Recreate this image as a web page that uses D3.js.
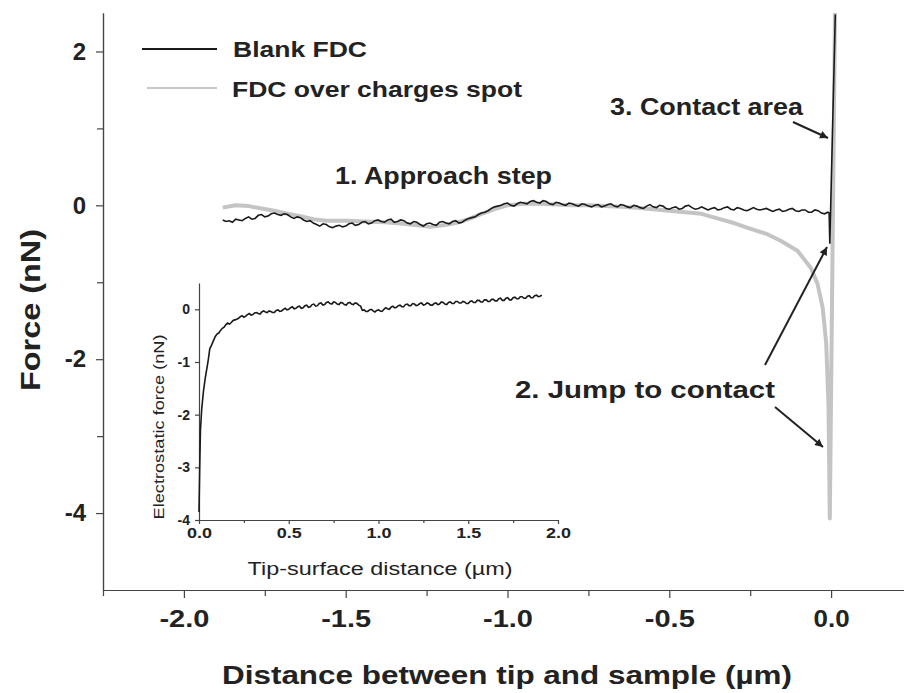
<!DOCTYPE html>
<html>
<head>
<meta charset="utf-8">
<script src="https://cdn.jsdelivr.net/npm/d3@7"></script>
<style>
  body { margin: 0; background: #fff; }
  text { font-family: "Liberation Sans", Arial, sans-serif; fill: #222; }
  .axis path, .axis line { stroke: #444; stroke-width: 1.2; }
  .axis text { font-weight: bold; }
</style>
</head>
<body>
<div id="chart-container"></div>
<script>
// force-distance curves
// main plot: blank FDC (black)
const blankFDC = [
  [-1.88,-0.19],[-1.87,-0.21],[-1.86,-0.20],[-1.85,-0.22],[-1.84,-0.18],[-1.83,-0.19],[-1.82,-0.20],
  [-1.81,-0.17],[-1.80,-0.15],[-1.79,-0.18],[-1.78,-0.17],[-1.77,-0.13],[-1.76,-0.12],[-1.75,-0.15],
  [-1.74,-0.14],[-1.73,-0.11],[-1.72,-0.10],[-1.71,-0.12],[-1.70,-0.13],[-1.69,-0.11],[-1.68,-0.12],
  [-1.67,-0.15],[-1.66,-0.17],[-1.65,-0.15],[-1.64,-0.16],[-1.63,-0.19],[-1.62,-0.21],[-1.61,-0.20],
  [-1.60,-0.23],[-1.59,-0.25],[-1.58,-0.27],[-1.57,-0.24],[-1.56,-0.25],[-1.55,-0.28],[-1.54,-0.29],
  [-1.53,-0.27],[-1.52,-0.26],[-1.51,-0.28],[-1.50,-0.27],[-1.49,-0.24],[-1.48,-0.23],[-1.47,-0.26],
  [-1.46,-0.25],[-1.45,-0.22],[-1.44,-0.21],[-1.43,-0.24],[-1.42,-0.23],[-1.41,-0.20],[-1.40,-0.19],
  [-1.39,-0.21],[-1.38,-0.22],[-1.37,-0.19],[-1.36,-0.18],[-1.35,-0.22],[-1.34,-0.21],[-1.33,-0.19],
  [-1.32,-0.20],[-1.31,-0.23],[-1.30,-0.24],[-1.29,-0.21],[-1.28,-0.22],[-1.27,-0.25],[-1.26,-0.27],
  [-1.25,-0.24],[-1.24,-0.23],[-1.23,-0.25],[-1.22,-0.26],[-1.21,-0.22],[-1.20,-0.21],[-1.19,-0.23],
  [-1.18,-0.24],[-1.17,-0.21],[-1.16,-0.20],[-1.15,-0.23],[-1.14,-0.22],[-1.13,-0.19],[-1.12,-0.17],
  [-1.11,-0.16],[-1.10,-0.15],[-1.09,-0.12],[-1.08,-0.10],[-1.07,-0.09],[-1.06,-0.07],[-1.05,-0.04],
  [-1.04,-0.02],[-1.03,-0.01],[-1.02,0.00],[-1.01,0.02],[-1.00,0.03],[-0.99,0.00],[-0.98,-0.01],
  [-0.97,0.02],[-0.96,0.04],[-0.95,0.03],[-0.94,0.02],[-0.93,0.05],[-0.92,0.06],[-0.91,0.04],
  [-0.90,0.03],[-0.89,0.06],[-0.88,0.05],[-0.87,0.02],[-0.86,0.01],[-0.85,0.04],[-0.84,0.03],
  [-0.83,0.01],[-0.82,0.00],[-0.81,0.03],[-0.80,0.02],[-0.79,0.00],[-0.78,-0.01],[-0.77,0.02],
  [-0.76,0.01],[-0.75,-0.01],[-0.74,-0.02],[-0.73,0.00],[-0.72,0.01],[-0.71,-0.02],[-0.70,-0.01],
  [-0.69,0.01],[-0.68,0.02],[-0.67,-0.01],[-0.66,-0.02],[-0.65,0.01],[-0.64,0.00],[-0.63,-0.02],
  [-0.62,-0.03],[-0.61,0.00],[-0.60,-0.01],[-0.59,-0.03],[-0.58,-0.04],[-0.57,-0.01],[-0.56,0.01],
  [-0.55,-0.02],[-0.54,-0.03],[-0.53,0.00],[-0.52,-0.01],[-0.51,-0.04],[-0.50,-0.05],[-0.49,-0.03],
  [-0.48,-0.02],[-0.47,-0.05],[-0.46,-0.04],[-0.45,-0.01],[-0.44,0.00],[-0.43,-0.03],[-0.42,-0.05],
  [-0.41,-0.04],[-0.40,-0.02],[-0.39,-0.04],[-0.38,-0.06],[-0.37,-0.04],[-0.36,-0.03],[-0.35,-0.06],
  [-0.34,-0.05],[-0.33,-0.03],[-0.32,-0.02],[-0.31,-0.05],[-0.30,-0.06],[-0.29,-0.03],[-0.28,-0.04],
  [-0.27,-0.06],[-0.26,-0.07],[-0.25,-0.05],[-0.24,-0.03],[-0.23,-0.05],[-0.22,-0.06],[-0.21,-0.05],
  [-0.20,-0.04],[-0.19,-0.06],[-0.18,-0.08],[-0.17,-0.06],[-0.16,-0.05],[-0.15,-0.08],[-0.14,-0.07],
  [-0.13,-0.05],[-0.12,-0.04],[-0.11,-0.07],[-0.10,-0.08],[-0.09,-0.06],[-0.08,-0.06],[-0.07,-0.09],
  [-0.06,-0.09],[-0.05,-0.06],[-0.04,-0.07],[-0.03,-0.10],[-0.02,-0.11],[-0.01,-0.09],[-0.006,-0.10],
  [-0.004,-0.50],[0.013,2.48]
];
// main plot: FDC over charges spot (grey)
const chargeFDC = [
  [-1.88,-0.03],[-1.84,0.00],[-1.80,-0.01],[-1.76,-0.04],[-1.72,-0.07],[-1.68,-0.11],
  [-1.64,-0.14],[-1.60,-0.18],[-1.56,-0.20],[-1.50,-0.20],[-1.44,-0.21],[-1.38,-0.22],
  [-1.32,-0.24],[-1.28,-0.26],[-1.24,-0.28],[-1.20,-0.26],[-1.16,-0.23],[-1.12,-0.18],
  [-1.08,-0.11],[-1.04,-0.05],[-1.00,0.00],[-0.95,0.02],[-0.90,0.02],[-0.85,0.01],
  [-0.80,0.00],[-0.75,0.00],[-0.70,-0.01],[-0.65,-0.02],[-0.60,-0.03],[-0.55,-0.05],
  [-0.50,-0.07],[-0.45,-0.09],[-0.40,-0.11],[-0.36,-0.16],[-0.30,-0.23],[-0.26,-0.29],
  [-0.20,-0.37],[-0.156,-0.46],[-0.104,-0.59],[-0.063,-0.81],[-0.042,-1.02],[-0.026,-1.33],
  [-0.015,-1.80],[-0.008,-2.60],[-0.004,-4.07],[0.012,2.50]
];
// inset: electrostatic force vs tip-surface distance
const electroForce = [
  [0.0,-3.85],[0.004,-3.0],[0.008,-2.3],[0.015,-1.9],[0.025,-1.55],[0.035,-1.3],
  [0.05,-1.0],[0.06,-0.75],[0.07,-0.68],[0.08,-0.6],[0.09,-0.52],[0.10,-0.47],[0.11,-0.45],
  [0.12,-0.40],[0.13,-0.36],[0.14,-0.34],[0.15,-0.29],[0.16,-0.26],[0.17,-0.28],[0.18,-0.25],
  [0.19,-0.21],[0.20,-0.20],[0.21,-0.19],[0.22,-0.17],[0.23,-0.14],[0.24,-0.12],[0.25,-0.15],
  [0.26,-0.13],[0.27,-0.10],[0.28,-0.08],[0.29,-0.11],[0.30,-0.10],[0.31,-0.07],[0.32,-0.06],
  [0.33,-0.08],[0.34,-0.09],[0.35,-0.05],[0.36,-0.03],[0.37,-0.05],[0.38,-0.06],[0.39,-0.03],
  [0.40,-0.04],[0.41,-0.06],[0.42,-0.06],[0.43,-0.02],[0.44,-0.01],[0.45,-0.04],[0.46,-0.03],
  [0.47,0.00],[0.48,0.02],[0.49,-0.01],[0.50,0.00],[0.51,0.03],[0.52,0.05],[0.53,0.01],
  [0.54,0.02],[0.55,0.05],[0.56,0.06],[0.57,0.02],[0.58,0.03],[0.59,0.07],[0.60,0.08],
  [0.61,0.04],[0.62,0.05],[0.63,0.09],[0.64,0.10],[0.65,0.06],[0.66,0.07],[0.67,0.11],
  [0.68,0.12],[0.69,0.08],[0.70,0.09],[0.71,0.13],[0.72,0.14],[0.73,0.11],[0.74,0.10],
  [0.75,0.14],[0.76,0.13],[0.77,0.10],[0.78,0.09],[0.79,0.13],[0.80,0.12],[0.81,0.09],
  [0.82,0.08],[0.83,0.12],[0.84,0.13],[0.85,0.10],[0.86,0.09],[0.87,0.12],[0.88,0.11],
  [0.89,0.08],[0.90,0.06],[0.91,-0.02],[0.92,-0.01],[0.93,-0.04],[0.94,-0.04],[0.95,-0.01],
  [0.96,0.00],[0.97,-0.03],[0.98,-0.05],[0.99,-0.02],[1.00,-0.01],[1.01,-0.03],[1.02,-0.04],
  [1.03,0.00],[1.04,0.03],[1.05,0.01],[1.06,0.00],[1.07,0.04],[1.08,0.06],[1.09,0.03],
  [1.10,0.04],[1.11,0.07],[1.12,0.08],[1.13,0.05],[1.14,0.05],[1.15,0.09],[1.16,0.10],
  [1.17,0.07],[1.18,0.07],[1.19,0.11],[1.20,0.10],[1.21,0.07],[1.22,0.08],[1.23,0.11],
  [1.24,0.12],[1.25,0.08],[1.26,0.09],[1.27,0.12],[1.28,0.11],[1.29,0.08],[1.30,0.08],
  [1.31,0.11],[1.32,0.12],[1.33,0.09],[1.34,0.10],[1.35,0.14],[1.36,0.13],[1.37,0.10],
  [1.38,0.09],[1.39,0.13],[1.40,0.14],[1.41,0.11],[1.42,0.11],[1.43,0.15],[1.44,0.15],
  [1.45,0.12],[1.46,0.12],[1.47,0.15],[1.48,0.14],[1.49,0.11],[1.50,0.11],[1.51,0.15],
  [1.52,0.16],[1.53,0.13],[1.54,0.13],[1.55,0.17],[1.56,0.17],[1.57,0.14],[1.58,0.14],
  [1.59,0.18],[1.60,0.18],[1.61,0.15],[1.62,0.15],[1.63,0.19],[1.64,0.19],[1.65,0.16],
  [1.66,0.16],[1.67,0.20],[1.68,0.21],[1.69,0.17],[1.70,0.17],[1.71,0.21],[1.72,0.22],
  [1.73,0.18],[1.74,0.18],[1.75,0.22],[1.76,0.23],[1.77,0.20],[1.78,0.20],[1.79,0.24],
  [1.80,0.24],[1.81,0.21],[1.82,0.21],[1.83,0.25],[1.84,0.26],[1.85,0.22],[1.86,0.22],
  [1.87,0.26],[1.88,0.27],[1.89,0.24],[1.90,0.25],[1.91,0.27]
];

const xTicks = [-2.0, -1.5, -1.0, -0.5, 0.0];
const xMinor = [-2.25, -1.75, -1.25, -0.75, -0.25];
const yTicks = [2, 0, -2, -4];
const yMinor = [1, -1, -3];
const insetXTicks = [0.0, 0.5, 1.0, 1.5, 2.0];
const insetXMinor = [0.25, 0.75, 1.25, 1.75];
const insetYTicks = [0, -1, -2, -3, -4];

const svgWidth = 904;
const svgHeight = 693;

// plain hyphen instead of d3's unicode minus, like the original figure
const fmt1 = d => d3.format(".1f")(d).replace("\u2212", "-");
const fmt0 = d => d3.format("d")(d).replace("\u2212", "-");

const svg = d3.select("#chart-container")
    .append("svg")
    .attr("width", svgWidth)
    .attr("height", svgHeight);

// main scales
const x = d3.scaleLinear().domain([-2.25, 0.25]).range([103, 912]);
const y = d3.scaleLinear().domain([-5, 2.5]).range([590, 13]);

// inset scales
const ix = d3.scaleLinear().domain([0, 2.0]).range([199, 558]);
const iy = d3.scaleLinear().domain([-4, 0.5]).range([520, 283]);

// axes
svg.append("g")
    .attr("class", "axis")
    .attr("transform", "translate(0,590)")
    .call(d3.axisBottom(x).tickValues(xTicks).tickFormat(fmt1).tickSize(8).tickSizeOuter(0).tickPadding(12))
    .call(g => g.selectAll("text").attr("font-size", 24)
        .attr("textLength", d => d < 0 ? 50 : 36).attr("lengthAdjust", "spacingAndGlyphs"));
svg.append("g")
    .attr("class", "axis")
    .attr("transform", "translate(0,590)")
    .call(d3.axisBottom(x).tickValues(xMinor).tickFormat("").tickSize(6).tickSizeOuter(0));

svg.append("g")
    .attr("class", "axis")
    .attr("transform", "translate(103,0)")
    .call(d3.axisLeft(y).tickValues(yTicks).tickFormat(fmt0).tickSize(7).tickSizeOuter(0).tickPadding(10))
    .call(g => g.selectAll("text").attr("font-size", 24));
svg.append("g")
    .attr("class", "axis")
    .attr("transform", "translate(103,0)")
    .call(d3.axisLeft(y).tickValues(yMinor).tickFormat("").tickSize(6).tickSizeOuter(0));

// inset axes
svg.append("g")
    .attr("class", "axis")
    .attr("transform", "translate(0,520)")
    .call(d3.axisBottom(ix).tickValues(insetXTicks).tickFormat(fmt1).tickSize(4).tickSizeOuter(0).tickPadding(4))
    .call(g => g.selectAll("text").attr("font-size", 14).attr("textLength", 25).attr("lengthAdjust", "spacingAndGlyphs"));
svg.append("g")
    .attr("class", "axis")
    .attr("transform", "translate(0,520)")
    .call(d3.axisBottom(ix).tickValues(insetXMinor).tickFormat("").tickSize(3).tickSizeOuter(0));
svg.append("g")
    .attr("class", "axis")
    .attr("transform", "translate(199,0)")
    .call(d3.axisLeft(iy).tickValues(insetYTicks).tickFormat(fmt0).tickSize(4).tickSizeOuter(0).tickPadding(5))
    .call(g => g.selectAll("text").attr("font-size", 14));

// lines
const line = d3.line().x(d => x(d[0])).y(d => y(d[1]));
const iline = d3.line().x(d => ix(d[0])).y(d => iy(d[1]));

svg.append("path")
    .datum(chargeFDC)
    .attr("d", line)
    .attr("fill", "none")
    .attr("stroke", "#c4c4c4")
    .attr("stroke-width", 4)
    .attr("stroke-linejoin", "round");

svg.append("path")
    .datum(blankFDC)
    .attr("d", line)
    .attr("fill", "none")
    .attr("stroke", "#1a1a1a")
    .attr("stroke-width", 1.6);

svg.append("path")
    .datum(electroForce)
    .attr("d", iline)
    .attr("fill", "none")
    .attr("stroke", "#1a1a1a")
    .attr("stroke-width", 1.6);

// axis titles
svg.append("text")
    .text("Distance between tip and sample (µm)")
    .attr("x", 507).attr("y", 684)
    .attr("text-anchor", "middle")
    .attr("font-size", 26)
    .attr("font-weight", "bold")
    .attr("textLength", 570).attr("lengthAdjust", "spacingAndGlyphs");

svg.append("text")
    .text("Force (nN)")
    .attr("transform", "translate(40,310) rotate(-90)")
    .attr("text-anchor", "middle")
    .attr("font-size", 27)
    .attr("font-weight", "bold")
    .attr("textLength", 162).attr("lengthAdjust", "spacingAndGlyphs");

svg.append("text")
    .text("Tip-surface distance (µm)")
    .attr("x", 380).attr("y", 575)
    .attr("text-anchor", "middle")
    .attr("font-size", 18)
    .attr("textLength", 265).attr("lengthAdjust", "spacingAndGlyphs");

svg.append("text")
    .text("Electrostatic force (nN)")
    .attr("transform", "translate(164,427) rotate(-90)")
    .attr("text-anchor", "middle")
    .attr("font-size", 15)
    .attr("textLength", 185).attr("lengthAdjust", "spacingAndGlyphs");

// legend
svg.append("line").attr("x1", 142).attr("x2", 217).attr("y1", 49).attr("y2", 49)
    .attr("stroke", "#1a1a1a").attr("stroke-width", 2.2);
svg.append("text").text("Blank FDC")
    .attr("x", 233).attr("y", 57)
    .attr("font-size", 22).attr("font-weight", "bold")
    .attr("textLength", 134).attr("lengthAdjust", "spacingAndGlyphs");
svg.append("line").attr("x1", 147).attr("x2", 217).attr("y1", 88).attr("y2", 88)
    .attr("stroke", "#c8c8c8").attr("stroke-width", 2.2);
svg.append("text").text("FDC over charges spot")
    .attr("x", 232).attr("y", 97)
    .attr("font-size", 22).attr("font-weight", "bold")
    .attr("textLength", 290).attr("lengthAdjust", "spacingAndGlyphs");

// annotations
const notes = [
  { t: "1. Approach step", x: 335, y: 184, w: 217 },
  { t: "3. Contact area", x: 610, y: 115, w: 193 },
  { t: "2. Jump to contact", x: 515, y: 398, w: 260 }
];
svg.selectAll(".note")
    .data(notes)
    .enter()
    .append("text")
    .attr("class", "note")
    .text(d => d.t)
    .attr("x", d => d.x).attr("y", d => d.y)
    .attr("font-size", 23).attr("font-weight", "bold")
    .attr("textLength", d => d.w).attr("lengthAdjust", "spacingAndGlyphs");

svg.append("defs").append("marker")
    .attr("id", "arrow")
    .attr("viewBox", "0 0 10 10")
    .attr("refX", 10).attr("refY", 5)
    .attr("markerWidth", 11).attr("markerHeight", 8)
    .attr("markerUnits", "userSpaceOnUse")
    .attr("orient", "auto")
    .append("path")
    .attr("d", "M0,0 L10,5 L0,10 z")
    .attr("fill", "#222");

const arrows = [
  [793, 122, 828, 138],
  [765, 365, 827, 247],
  [775, 407, 823, 447]
];
svg.selectAll(".arrow")
    .data(arrows)
    .enter()
    .append("line")
    .attr("class", "arrow")
    .attr("x1", d => d[0]).attr("y1", d => d[1])
    .attr("x2", d => d[2]).attr("y2", d => d[3])
    .attr("stroke", "#222").attr("stroke-width", 2)
    .attr("marker-end", "url(#arrow)");
</script>
</body>
</html>
